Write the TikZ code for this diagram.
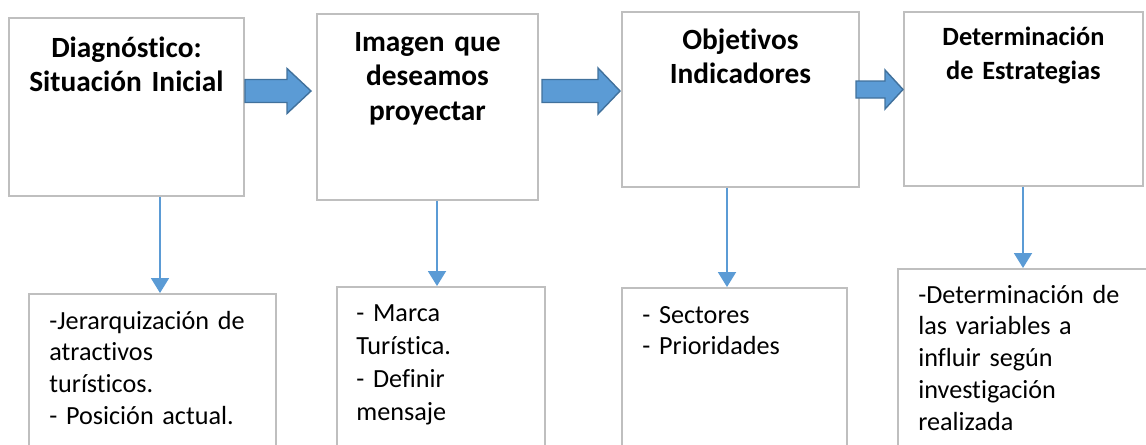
\documentclass[tikz,border=0pt]{standalone}
\usepackage{fontspec}
\setmainfont{Carlito}[Ligatures=NoCommon]
\usetikzlibrary{calc,arrows.meta}
\definecolor{boxgray}{RGB}{191,191,191}
\definecolor{ablue}{RGB}{91,155,213}
\definecolor{dblue}{RGB}{65,113,156}
\tikzset{
  stage/.style={draw=boxgray, line width=1.1pt, anchor=north west, inner sep=0pt},
  ttl/.style={anchor=base, align=center, inner sep=0pt, text width=4.6cm,
              font=\bfseries\fontsize{16.7}{19.8}\selectfont},
  items/.style={anchor=base west, align=left, inner sep=0pt, text width=4.8cm,
              font=\fontsize{14.9}{18.2}\selectfont},
  down/.style={draw=ablue, line width=1.1pt, -{Triangle[width=0.36cm,length=0.3cm]}}
}
% block arrow: x start, x head, x tip, y middle, half shaft, half head
\newcommand{\barr}[6]{
\filldraw[fill=ablue, draw=dblue, line width=0.8pt]
  (#1,#4-#5) -- (#2,#4-#5) -- (#2,#4-#6) -- (#3,#4) --
  (#2,#4+#6) -- (#2,#4+#5) -- (#1,#4+#5) -- cycle;
}
\begin{document}
\begin{tikzpicture}[x=0.02cm,y=-0.02cm]
\useasboundingbox (0,0) rectangle (1146,444);
\clip (0,0) rectangle (1146,444);

% top row
\node[stage, minimum width=4.70cm, minimum height=3.56cm] (diag) at (8,17) {};
\node[stage, minimum width=4.42cm, minimum height=3.72cm] (imag) at (316,13) {};
\node[stage, minimum width=4.74cm, minimum height=3.50cm] (obje) at (621,11) {};
\node[stage, minimum width=4.78cm, minimum height=3.48cm] (estr) at (903,11) {};

\node[ttl] (tdiag) at ($(diag.north)+(0,40)$) {Diagnóstico:\\Situación Inicial};
\node[ttl] (timag) at ($(imag.north)+(0,38)$) {Imagen que\\deseamos\\proyectar};
\node[ttl] (tobje) at ($(obje.north)+(0,38)$) {Objetivos\\Indicadores};
\node[ttl, font=\bfseries\fontsize{15}{19.8}\selectfont] (testr) at ($(estr.north)+(0,34)$)
  {Determinación\\de Estrategias};

% arrows between stages
\barr{245}{287}{311}{91}{11.5}{22.5}
\barr{542}{598}{620}{91}{11.5}{23}
\barr{856}{885}{903}{89.5}{8.5}{19.5}

% bottom row
\node[stage, minimum width=4.94cm, minimum height=3.40cm] (jer) at (28,293) {};
\node[stage, minimum width=4.16cm, minimum height=3.50cm] (marca) at (336,286) {};
\node[stage, minimum width=4.50cm, minimum height=3.50cm] (sect) at (621,287) {};
\node[stage, minimum width=5.20cm, minimum height=3.90cm] (vari) at (897,268) {};

\node[items] (ijer) at ($(jer.north west)+(21,36)$)
  {-Jerarquización de\\atractivos\\turísticos.\\- Posición actual.};
\node[items, font=\fontsize{14.9}{18.8}\selectfont] (imarca) at ($(marca.north west)+(20,35)$)
  {- Marca\\Turística.\\- Definir\\mensaje};
\node[items] (isect) at ($(sect.north west)+(21,36)$)
  {- Sectores\\- Prioridades};
\node[items] (ivari) at ($(vari.north west)+(21,35)$)
  {-Determinación de\\las variables a\\influir según\\investigación\\realizada};

% down arrows
\coordinate (x1) at (160,0);
\coordinate (x2) at (437,0);
\coordinate (x3) at (727,0);
\coordinate (x4) at (1023,0);
\draw[down] (diag.south -| x1) -- (jer.north -| x1);
\draw[down] (imag.south -| x2) -- (marca.north -| x2);
\draw[down] (obje.south -| x3) -- (sect.north -| x3);
\draw[down] (estr.south -| x4) -- (vari.north -| x4);
\end{tikzpicture}
\end{document}
